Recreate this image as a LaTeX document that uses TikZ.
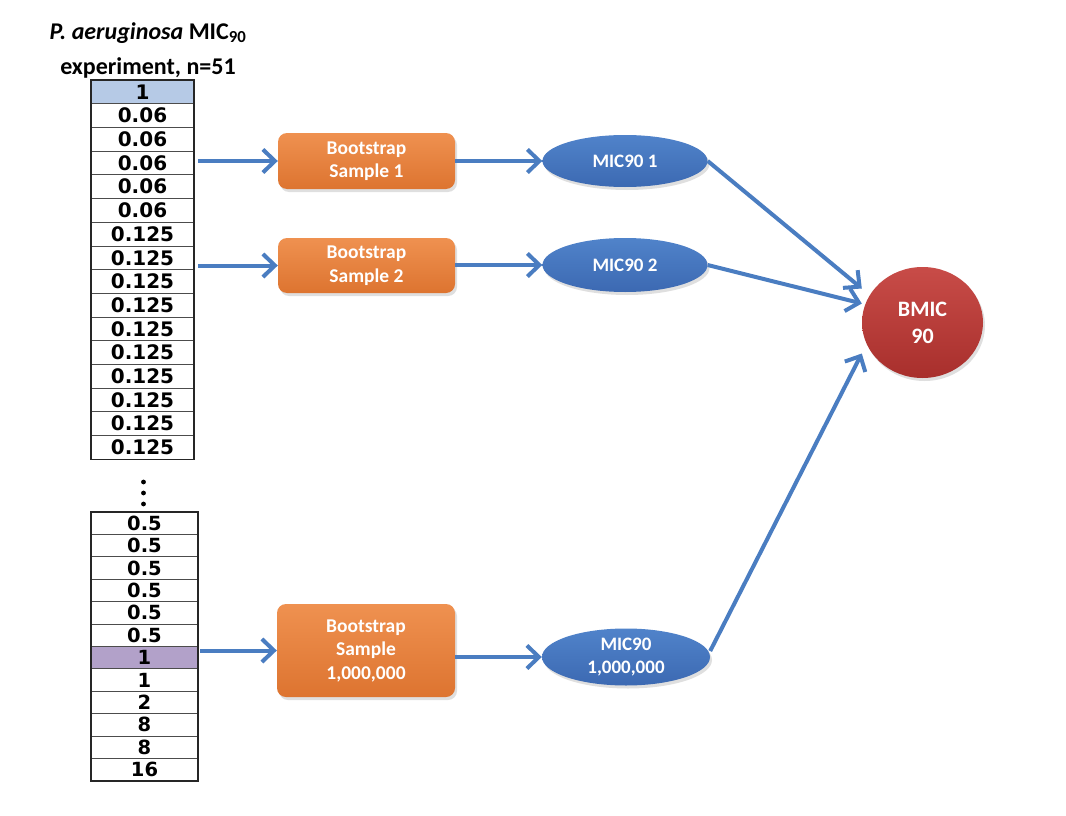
\documentclass[tikz,border=0pt]{standalone}
\usepackage{fontspec}
\setmainfont{Carlito}
\newfontfamily\tabfont{DejaVu Sans}
\usetikzlibrary{arrows.meta,shapes.geometric,shadows,fit}
\definecolor{arrblue}{HTML}{4A7DC1}
\definecolor{hlblue}{HTML}{B6CAE6}
\definecolor{hlpurple}{HTML}{B2A1C9}
\definecolor{boxtop}{HTML}{EF9150}
\definecolor{boxbot}{HTML}{DD7430}
\definecolor{elltop}{HTML}{5083CA}
\definecolor{ellbot}{HTML}{3C69B2}
\definecolor{redtop}{HTML}{C84C48}
\definecolor{redbot}{HTML}{A82F2C}
\tikzset{
  cellA/.style={draw=black!70, line width=0.7pt, fill=white, minimum width=103pt, minimum height=23.7pt, inner sep=0pt,
    font=\tabfont\bfseries\fontsize{20}{20}\selectfont},
  cellB/.style={cellA, minimum width=107pt, minimum height=22.4pt, font=\tabfont\bfseries\fontsize{19.5}{19.5}\selectfont},
  frame/.style={draw=black!85, line width=1.8pt, inner sep=0pt},
  bootbox/.style={rounded corners=9pt, top color=boxtop, bottom color=boxbot, draw=none,
    drop shadow={opacity=0.25, shadow xshift=2pt, shadow yshift=-3pt},
    text=white, align=center, inner sep=0pt,
    font=\bfseries\fontsize{19.5}{23.5}\selectfont},
  micell/.style={ellipse, top color=elltop, bottom color=ellbot, draw=none,
    drop shadow={opacity=0.25, shadow xshift=2pt, shadow yshift=-3pt},
    text=white, align=center, inner sep=0pt,
    font=\bfseries\fontsize{19}{23}\selectfont},
  redcirc/.style={ellipse, top color=redtop, bottom color=redbot, draw=none,
    drop shadow={opacity=0.25, shadow xshift=2pt, shadow yshift=-3pt},
    text=white, align=center, inner sep=0pt,
    font=\bfseries\fontsize{22}{27}\selectfont},
  arr/.style={draw=arrblue, line width=4pt, -{Straight Barb[length=12pt,width=23pt,line width=4pt]}},
  vdot/.style={circle, fill=black, inner sep=0pt, minimum size=4.8pt}
}
\begin{document}
\begin{tikzpicture}[x=1pt,y=-1pt]
\useasboundingbox[fill=white] (0,0) rectangle (1066,816);

% title
\node[align=center, font=\bfseries\fontsize{24}{35}\selectfont] (title) at (148,50)
  {\textit{P. aeruginosa} MIC\textsubscript{90}\\experiment, n=51};

% table 1
\node[cellA, fill=hlblue] (ta1) at (142.5,{80+23.7*0.5}) {1};
\foreach \v [count=\i from 2] in {0.06,0.06,0.06,0.06,0.06,0.125,0.125,0.125,0.125,0.125,0.125,0.125,0.125,0.125,0.125}
  \node[cellA] (ta\i) at (142.5,{80+23.7*(\i-0.5)}) {\v};
\node[frame, fit=(ta1)(ta16)] (tab1) {};

% dots
\node[vdot] (d1) at (143.5,482) {};
\node[vdot] (d2) at (143.5,493) {};
\node[vdot] (d3) at (143.5,504) {};

% table 2
\foreach \v [count=\i] in {0.5,0.5,0.5,0.5,0.5,0.5}
  \node[cellB] (tb\i) at (144.5,{512+22.4*(\i-0.5)}) {\v};
\node[cellB, fill=hlpurple] (tb7) at (144.5,{512+22.4*6.5}) {1};
\foreach \v [count=\i from 8] in {1,2,8,8,16}
  \node[cellB] (tb\i) at (144.5,{512+22.4*(\i-0.5)}) {\v};
\node[frame, fit=(tb1)(tb12)] (tab2) {};

% bootstrap boxes
\node[bootbox, minimum width=177pt, minimum height=56pt] (b1) at (366.5,161) {Bootstrap\\Sample 1};
\node[bootbox, minimum width=177pt, minimum height=55pt] (b2) at (366.5,265.5) {Bootstrap\\Sample 2};
\node[bootbox, minimum width=178pt, minimum height=93pt] (b3) at (366,650.5) {Bootstrap\\Sample\\1,000,000};

% MIC90 ellipses
\node[micell, minimum width=165pt, minimum height=52pt] (m1) at (625,161) {MIC90 1};
\node[micell, minimum width=165pt, minimum height=54pt] (m2) at (625,265) {MIC90 2};
\node[micell, minimum width=168pt, minimum height=57pt] (m3) at (626,657) {MIC90\\1,000,000};

% BMIC circle
\node[redcirc, minimum width=121pt, minimum height=111pt] (bm) at (922.5,322.5) {BMIC\\90};

% arrows table -> boxes
\draw[arr, shorten <=3pt] (tab1.east |- b1.west) -- (b1.west);
\draw[arr, shorten <=3pt] (tab1.east |- b2.west) -- (b2.west);
\draw[arr, shorten <=1pt] (tab2.east |- b3.west) -- (b3.west);

% arrows boxes -> ellipses
\draw[arr] (b1.east |- m1.west) -- (m1.west);
\draw[arr] (b2.east |- m2.west) -- (m2.west);
\draw[arr] (b3.east |- m3.west) -- (m3.west);

% arrows ellipses -> BMIC
\draw[arr] (m1.east) -- ([yshift=34pt]bm.west);
\draw[arr] (m2.east) -- ([yshift=19pt]bm.west);
\draw[arr] ([yshift=6pt]m3.east) -- ([yshift=-31pt]bm.west);
\end{tikzpicture}
\end{document}
